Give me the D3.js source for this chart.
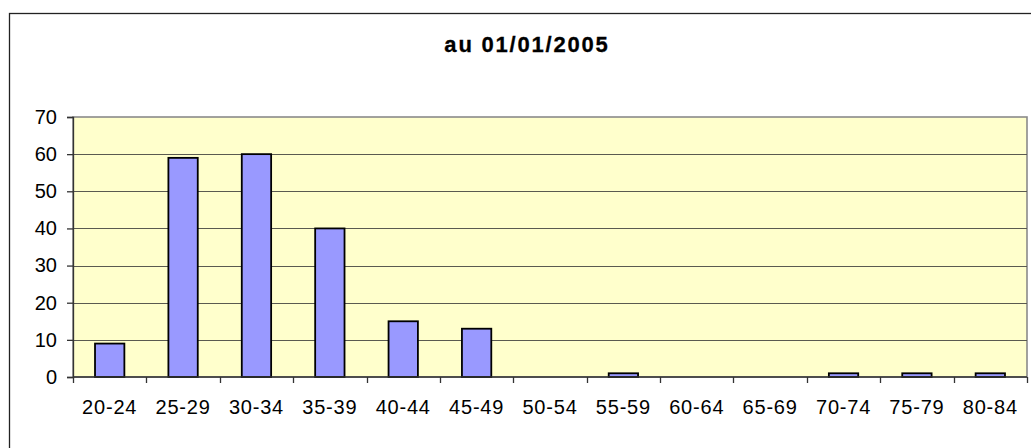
<!DOCTYPE html>
<html>
<head>
<meta charset="utf-8">
<script src="https://cdn.jsdelivr.net/npm/d3@7"></script>
<style>
  html, body { margin: 0; padding: 0; background: #ffffff; }
  svg { display: block; font-family: "Liberation Sans", Arial, sans-serif; }
</style>
</head>
<body>
<div id="chart"></div>
<script>
var categories = ["20-24", "25-29", "30-34", "35-39", "40-44", "45-49", "50-54",
                  "55-59", "60-64", "65-69", "70-74", "75-79", "80-84"];
var values = [9, 59, 60, 40, 15, 13, 0, 1, 0, 0, 1, 1, 1];
var yTicks = [0, 10, 20, 30, 40, 50, 60, 70];
var title = "au 01/01/2005";

var width = 1031, height = 448;
var plot = { left: 73, right: 1027, top: 117, bottom: 377 };

var svg = d3.select("#chart")
  .append("svg")
  .attr("width", width)
  .attr("height", height);

// outer chart frame (runs off the right and bottom edges)
svg.append("rect")
  .attr("x", 9.5).attr("y", 13.5)
  .attr("width", 1040).attr("height", 460)
  .attr("fill", "#ffffff")
  .attr("stroke", "#222222")
  .attr("stroke-width", 1.3);

svg.append("text")
  .attr("x", 527).attr("y", 52)
  .attr("text-anchor", "middle")
  .attr("font-size", 22)
  .attr("font-weight", "bold")
  .attr("letter-spacing", 1.8)
  .attr("stroke", "#000")
  .attr("stroke-width", 0.3)
  .attr("fill", "#000")
  .text(title);

var x = d3.scaleBand()
  .domain(categories)
  .range([plot.left, plot.right])
  .paddingInner(0.6)
  .paddingOuter(0.3);

var y = d3.scaleLinear()
  .domain([0, 70])
  .range([plot.bottom, plot.top]);

// plot background
svg.append("rect")
  .attr("x", plot.left).attr("y", plot.top)
  .attr("width", plot.right - plot.left)
  .attr("height", plot.bottom - plot.top)
  .attr("fill", "#ffffcc")
  .attr("stroke", "#8a8a8a")
  .attr("stroke-width", 1.6);

// gridlines
svg.append("g")
  .selectAll("line")
  .data(yTicks.filter(function(d){ return d > 0 && d < 70; }))
  .enter().append("line")
    .attr("x1", plot.left).attr("x2", plot.right)
    .attr("y1", function(d){ return Math.round(y(d)) + 0.5; })
    .attr("y2", function(d){ return Math.round(y(d)) + 0.5; })
    .attr("stroke", "#5a5a50")
    .attr("stroke-width", 1.2);

// bars
svg.append("g")
  .selectAll("rect")
  .data(values)
  .enter().append("rect")
    .attr("x", function(d, i){ return x(categories[i]); })
    .attr("width", x.bandwidth())
    .attr("y", function(d){ return y(d); })
    .attr("height", function(d){ return y(0) - y(d); })
    .attr("fill", "#9999ff")
    .attr("stroke", "#000000")
    .attr("stroke-width", 1.8);

// y axis
var yAxis = d3.axisLeft(y)
  .tickValues(yTicks)
  .tickSize(6)
  .tickPadding(10);

var gy = svg.append("g")
  .attr("transform", "translate(" + plot.left + ",0)")
  .call(yAxis);
gy.select(".domain").attr("stroke", "#333").attr("stroke-width", 1.3);
gy.selectAll(".tick line").attr("stroke", "#333").attr("stroke-width", 1.3);
gy.selectAll("text")
  .attr("font-size", 20)
  .attr("font-family", "'Liberation Sans', Arial, sans-serif")
  .attr("fill", "#000");

// x axis: ticks at category boundaries
var step = x.step();
var bounds = d3.range(categories.length + 1).map(function(i){ return plot.left + i * step; });

var gx = svg.append("g");
gx.append("line")
  .attr("x1", plot.left).attr("x2", plot.right)
  .attr("y1", plot.bottom).attr("y2", plot.bottom)
  .attr("stroke", "#333").attr("stroke-width", 1.6);
gx.selectAll(".bt")
  .data(bounds)
  .enter().append("line")
    .attr("class", "bt")
    .attr("x1", function(d){ return Math.round(d) + 0.5; })
    .attr("x2", function(d){ return Math.round(d) + 0.5; })
    .attr("y1", plot.bottom).attr("y2", plot.bottom + 6)
    .attr("stroke", "#333").attr("stroke-width", 1.3);
gx.selectAll("text")
  .data(categories)
  .enter().append("text")
    .attr("x", function(d){ return x(d) + x.bandwidth() / 2; })
    .attr("y", 414)
    .attr("text-anchor", "middle")
    .attr("font-size", 20)
    .attr("letter-spacing", 0.8)
    .attr("fill", "#000")
    .text(function(d){ return d; });
</script>
</body>
</html>
